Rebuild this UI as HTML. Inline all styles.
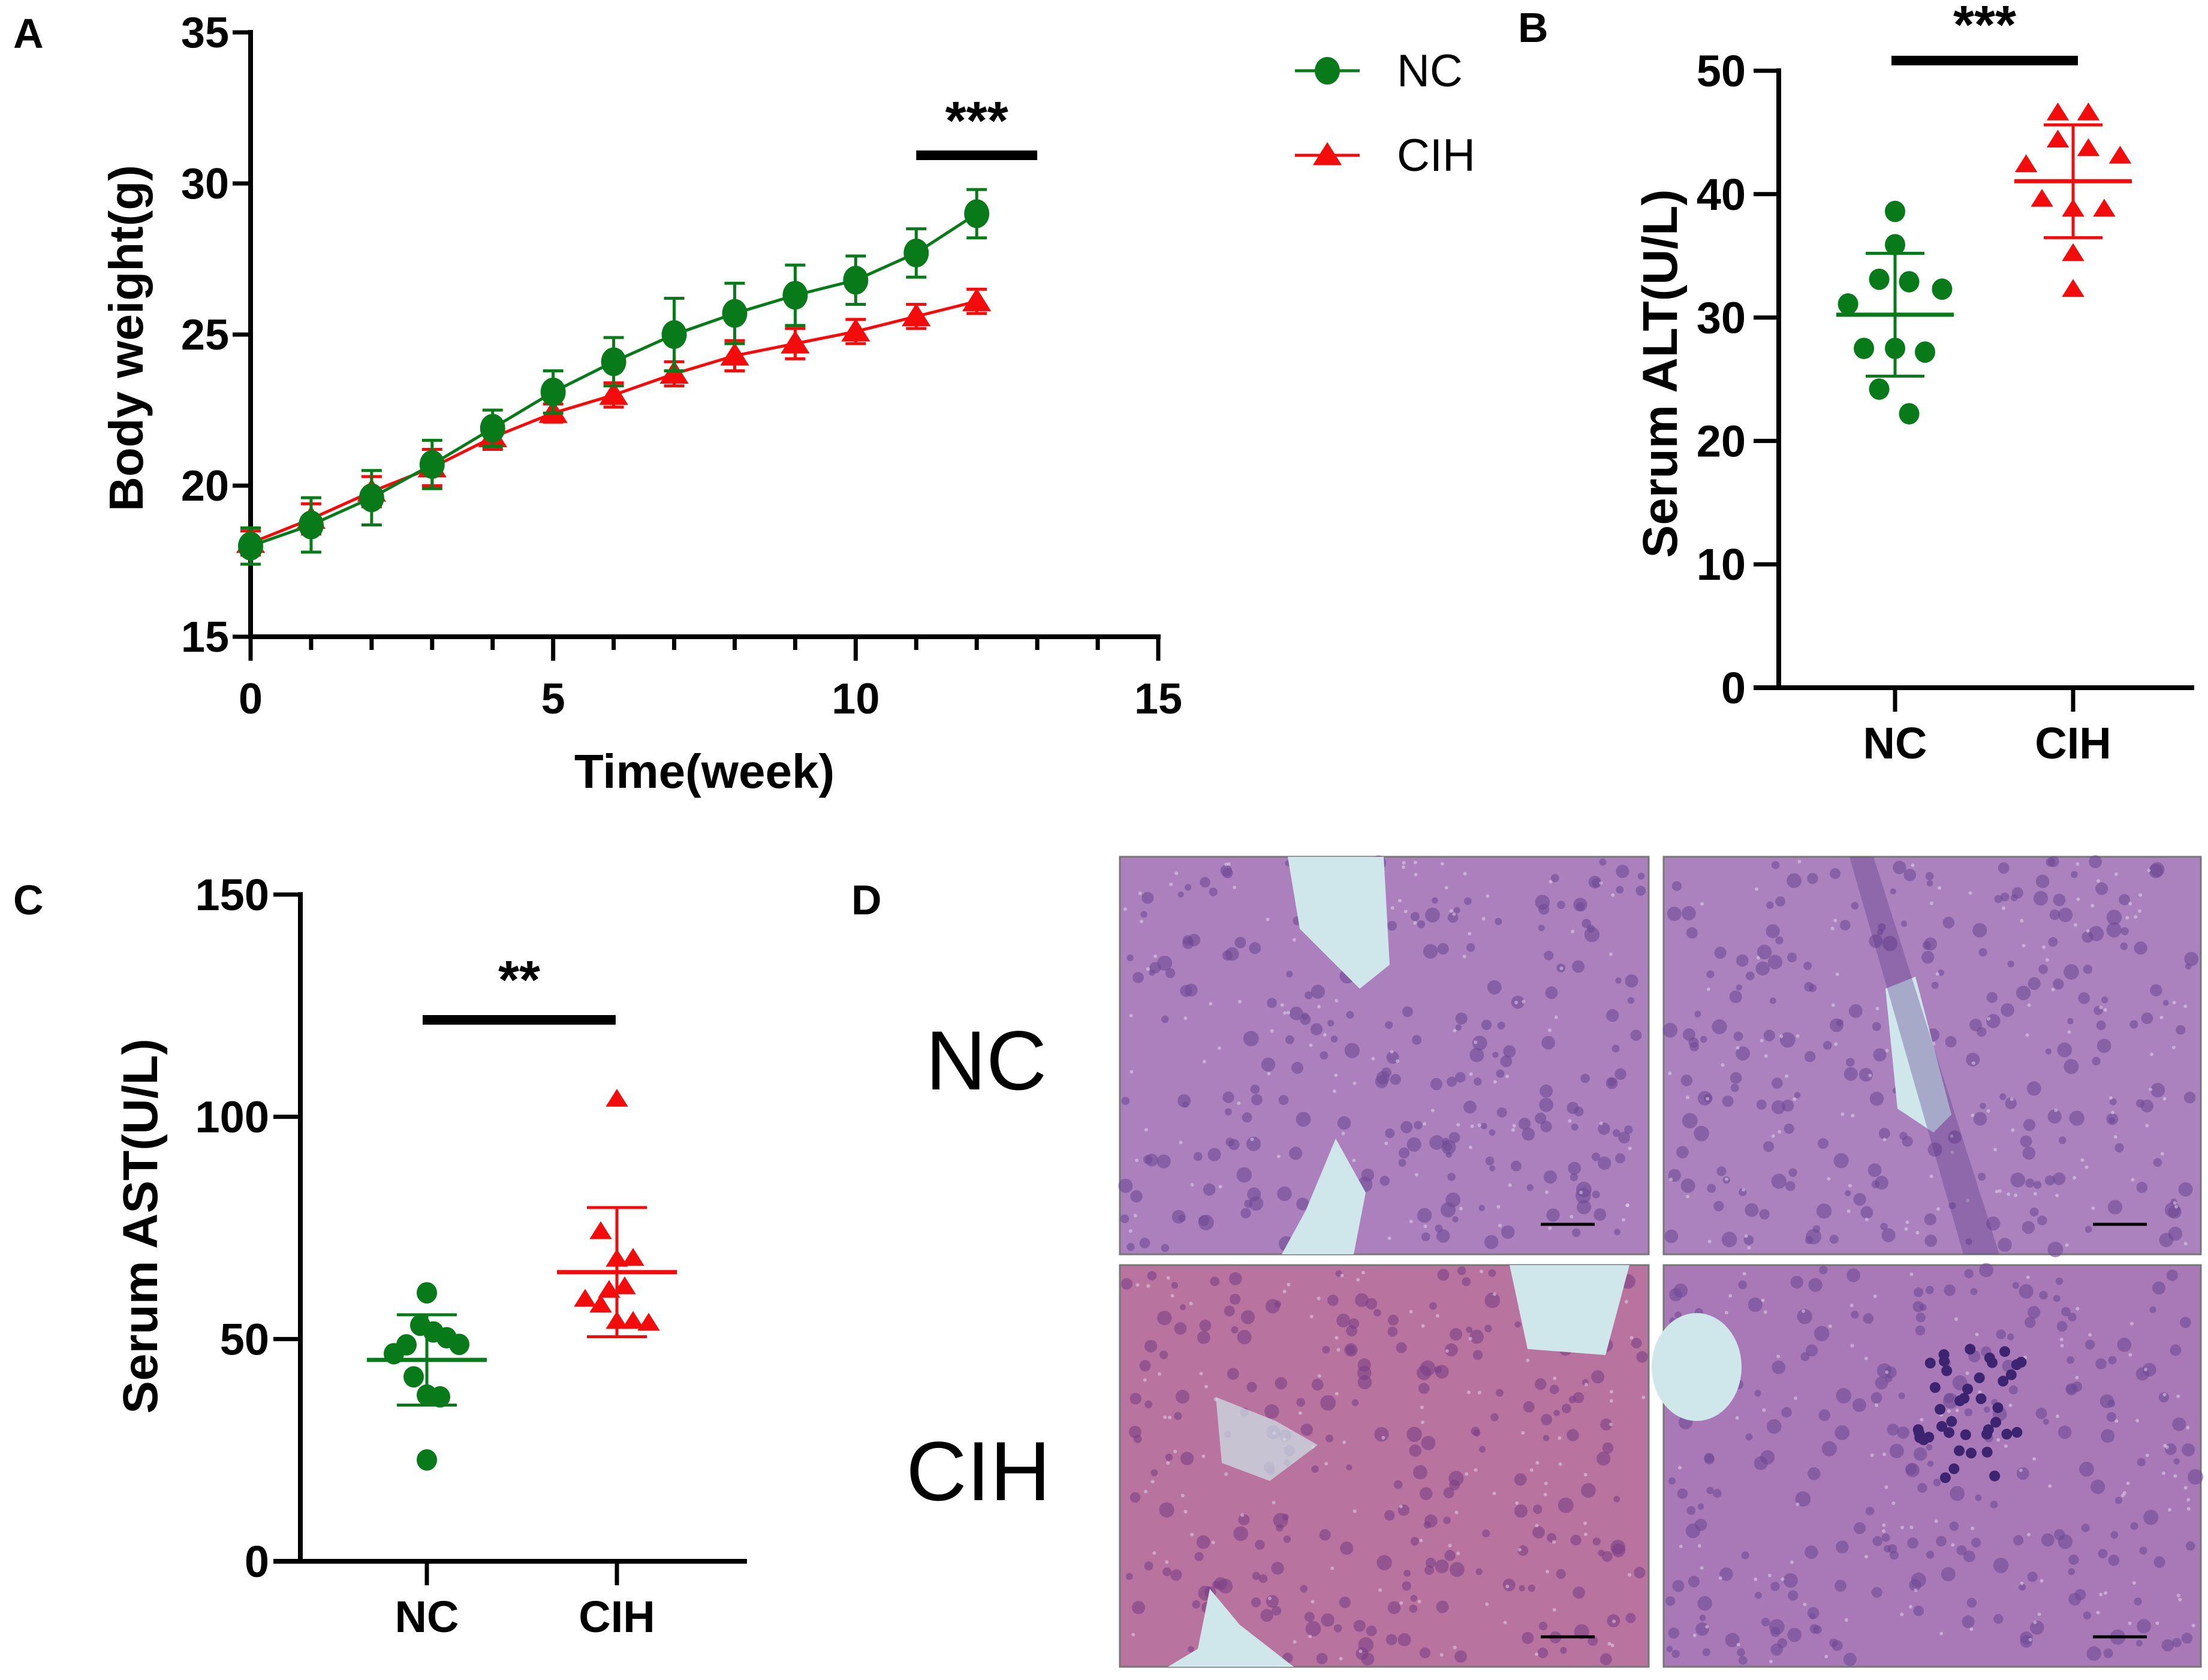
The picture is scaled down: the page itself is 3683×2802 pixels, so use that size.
<!DOCTYPE html>
<html><head><meta charset="utf-8"><style>
html,body{margin:0;padding:0;background:#fff;}
svg{display:block;font-family:"Liberation Sans",Arial,sans-serif;}
</style></head><body>
<svg id="fig" width="3683" height="2802" viewBox="0 0 3683 2802" xmlns="http://www.w3.org/2000/svg">
<g id="gA"></g>
<g id="gB"></g>
<g id="gC"></g>
<g id="gD"></g>
</svg>
<script>
// ---- Panel A data ----
const weeks = [0,1,2,3,4,5,6,7,8,9,10,11,12];
const ncWeight = [18.0,18.7,19.6,20.7,21.9,23.1,24.1,25.0,25.7,26.3,26.8,27.7,29.0];
const ncWeightErr = [0.6,0.9,0.9,0.8,0.6,0.7,0.8,1.2,1.0,1.0,0.8,0.8,0.8];
const cihWeight = [18.1,18.9,19.8,20.6,21.6,22.4,23.0,23.7,24.3,24.7,25.1,25.6,26.1];
const cihWeightErr = [0.4,0.5,0.5,0.6,0.4,0.3,0.4,0.4,0.5,0.5,0.4,0.4,0.4];
const aXTicks = [0,5,10,15];
const aYTicks = [15,20,25,30,35];
// ---- Panel B data ----
const groups = ["NC","CIH"];
const altNC = [38.6,35.9,33.1,32.9,32.3,31.1,27.5,27.5,27.2,24.2,22.2];
const altNCJitter = [0,0,-0.27,0.24,0.8,-0.8,-0.53,0,0.51,-0.27,0.24];
const altCIH = [46.6,46.6,44.4,43.7,43.1,42.4,39.6,38.8,38.8,35.2,32.3];
const altCIHJitter = [-0.26,0.26,-0.26,0.26,0.8,-0.8,-0.53,0,0.53,0,0];
const bYTicks = [0,10,20,30,40,50];
// ---- Panel C data ----
const astNC = [60.4,53.1,51.6,50.3,48.8,48.7,46.7,41.5,37.4,37.0,22.8];
const astNCJitter = [0,-0.11,0.11,0.33,0.54,-0.34,-0.55,-0.22,0,0.22,0];
const astCIH = [104,74.2,68,68.2,61,61.8,59,57.7,54,54,53.6];
const astCIHJitter = [0,-0.27,0,0.27,-0.13,0.13,-0.53,-0.27,0,0.27,0.53];
const cYTicks = [0,50,100,150];

const NS="http://www.w3.org/2000/svg";
const GREEN="#087a1a", RED="#f20c0c";
function el(tag, attrs, parent){const e=document.createElementNS(NS,tag);for(const k in attrs)e.setAttribute(k,attrs[k]);parent.appendChild(e);return e;}
function txt(s, attrs, parent){const e=el('text',attrs,parent);e.textContent=s;return e;}
function mean(a){return a.reduce((s,v)=>s+v,0)/a.length;}
function sd(a){const m=mean(a);return Math.sqrt(a.reduce((s,v)=>s+(v-m)*(v-m),0)/(a.length-1));}
function tri(cx,cy,r){return `${cx},${cy-r} ${cx-r*1.1},${cy+r*0.75} ${cx+r*1.1},${cy+r*0.75}`;}

// ===== Panel A =====
(function(){
 const g=document.getElementById('gA');
 const x0=418,x1=1932,y0=1062,y1=54;
 const X=v=>x0+(v-0)/(15-0)*(x1-x0);
 const Y=v=>y0-(v-15)/(35-15)*(y0-y1);
 let t=txt('A',{x:22,y:80,'font-size':70,'font-weight':'bold'},g);
 
 let ax=el('line',{x1:x0,y1:y1-4,x2:x0,y2:y0+4,stroke:'#000','stroke-width':8},g);
 
 ax=el('line',{x1:x0-4,y1:y0,x2:x1+4,y2:y0,stroke:'#000','stroke-width':8},g);
 
 aYTicks.forEach(v=>{
  el('line',{x1:x0-30,y1:Y(v),x2:x0,y2:Y(v),stroke:'#000','stroke-width':7},g);
  const l=txt(String(v),{x:x0-36,y:Y(v)+25,'font-size':72,'font-weight':'bold','text-anchor':'end'},g);
  
 });
 for(let v=0;v<=15;v++){
  const big=aXTicks.includes(v);
  el('line',{x1:X(v),y1:y0,x2:X(v),y2:y0+(big?40:22),stroke:'#000','stroke-width':7},g);
 }
 aXTicks.forEach(v=>{
  const l=txt(String(v),{x:X(v),y:1190,'font-size':72,'font-weight':'bold','text-anchor':'middle'},g);
  
 });
 t=txt('Time(week)',{x:1175,y:1314,'font-size':80,'font-weight':'bold','text-anchor':'middle'},g);
 
 t=txt('Body weight(g)',{x:0,y:0,'font-size':80,'font-weight':'bold','text-anchor':'middle',transform:'translate(238,564) rotate(-90)'},g);
 
 function series(vals,errs,color,name,marker){
  const sg=el('g',{},g);
  
  el('polyline',{points:weeks.map((w,i)=>X(w)+','+Y(vals[i])).join(' '),fill:'none',stroke:color,'stroke-width':5},sg);
  weeks.forEach((w,i)=>{
   const cx=X(w),hi=Y(vals[i]+errs[i]),lo=Y(vals[i]-errs[i]);
   el('line',{x1:cx,y1:hi,x2:cx,y2:lo,stroke:color,'stroke-width':5},sg);
   el('line',{x1:cx-17,y1:hi,x2:cx+17,y2:hi,stroke:color,'stroke-width':5},sg);
   el('line',{x1:cx-17,y1:lo,x2:cx+17,y2:lo,stroke:color,'stroke-width':5},sg);
   let m;
   if(marker==='c') m=el('ellipse',{cx:cx,cy:Y(vals[i]),rx:21,ry:24,fill:color},sg);
   else m=el('polygon',{points:tri(cx,Y(vals[i]),22),fill:color},sg);
   
  });
 }
 series(cihWeight,cihWeightErr,RED,'cih-weight-series','t');
 series(ncWeight,ncWeightErr,GREEN,'nc-weight-series','c');
 let b=el('line',{x1:X(11),y1:259,x2:X(13),y2:259,stroke:'#000','stroke-width':16},g);
 
 t=txt('***',{x:(X(11)+X(13))/2,y:232,'font-size':90,'font-weight':'bold','text-anchor':'middle'},g);
 
 // legend
 const lg=el('g',{},g);
 let e=el('g',{},lg);
 el('line',{x1:2160,y1:118,x2:2268,y2:118,stroke:GREEN,'stroke-width':5},e);
 el('ellipse',{cx:2214,cy:118,rx:21,ry:23,fill:GREEN},e);
 txt('NC',{x:2330,y:144,'font-size':76},e);
 e=el('g',{},lg);
 el('line',{x1:2160,y1:259,x2:2268,y2:259,stroke:RED,'stroke-width':5},e);
 el('polygon',{points:tri(2214,259,22),fill:RED},e);
 txt('CIH',{x:2330,y:285,'font-size':76},e);
})();

// ===== scatter panel helper =====
function scatterPanel(gid,cfg){
 const g=document.getElementById(gid);
 const {x0,x1,y0,y1,ymax,ticks,cats,catW,ncV,ncJ,cihV,cihJ,letter,lx,ly,title,tx,ty,bar,stars,r,pre,tickLen,lblGap}=cfg;
 const Y=v=>y0-v/ymax*(y0-y1);
 let t=txt(letter,{x:lx,y:ly,'font-size':70,'font-weight':'bold'},g);
 
 let a=el('line',{x1:x0,y1:y1-4,x2:x0,y2:y0+4,stroke:'#000','stroke-width':8},g);
 
 a=el('line',{x1:x0-tickLen,y1:y0,x2:x1,y2:y0,stroke:'#000','stroke-width':8},g);
 
 ticks.forEach(v=>{
  el('line',{x1:x0-tickLen,y1:Y(v),x2:x0,y2:Y(v),stroke:'#000','stroke-width':7},g);
  const l=txt(String(v),{x:x0-lblGap,y:Y(v)+26,'font-size':74,'font-weight':'bold','text-anchor':'end'},g);
  
 });
 groups.forEach((name,i)=>{
  el('line',{x1:cats[i],y1:y0,x2:cats[i],y2:y0+40,stroke:'#000','stroke-width':7},g);
  const l=txt(name,{x:cats[i],y:y0+118,'font-size':74,'font-weight':'bold','text-anchor':'middle'},g);
  
 });
 t=txt(title,{x:0,y:0,'font-size':82,'font-weight':'bold','text-anchor':'middle',transform:`translate(${tx},${ty}) rotate(-90)`},g);
 
 [[ncV,ncJ,GREEN,'c',cats[0],'nc'],[cihV,cihJ,RED,'t',cats[1],'cih']].forEach(([vals,jit,col,mk,cx,nm])=>{
  const sg=el('g',{},g);
  vals.forEach((v,i)=>{
   const px=cx+jit[i]*catW;let m;
   if(mk==='c') m=el('ellipse',{cx:px,cy:Y(v),rx:r,ry:r*1.05,fill:col},sg);
   else m=el('polygon',{points:tri(px,Y(v),r),fill:col},sg);
   
  });
  const m=mean(vals),s=sd(vals);
  let ml=el('line',{x1:cx-catW,y1:Y(m),x2:cx+catW,y2:Y(m),stroke:col,'stroke-width':7},sg);
  
  el('line',{x1:cx,y1:Y(m+s),x2:cx,y2:Y(m-s),stroke:col,'stroke-width':5},sg);
  el('line',{x1:cx-catW*0.5,y1:Y(m+s),x2:cx+catW*0.5,y2:Y(m+s),stroke:col,'stroke-width':5},sg);
  el('line',{x1:cx-catW*0.5,y1:Y(m-s),x2:cx+catW*0.5,y2:Y(m-s),stroke:col,'stroke-width':5},sg);
 });
 let b=el('line',{x1:bar[0],y1:bar[2],x2:bar[1],y2:bar[2],stroke:'#000','stroke-width':16},g);
 
 t=txt(stars,{x:(bar[0]+bar[1])/2,y:bar[3],'font-size':90,'font-weight':'bold','text-anchor':'middle'},g);
 
}
scatterPanel('gB',{x0:2967,x1:3660,y0:1147,y1:118,ymax:50,ticks:bYTicks,cats:[3161,3458],catW:98,
 ncV:altNC,ncJ:altNCJitter,cihV:altCIH,cihJ:altCIHJitter,letter:'B',lx:2532,ly:70,
 title:'Serum ALT(U/L)',tx:2797,ty:623,bar:[3155,3466,101,72],stars:'***',r:17,pre:'b',tickLen:42,lblGap:55});
scatterPanel('gC',{x0:501,x1:1246,y0:2604,y1:1492,ymax:150,ticks:cYTicks,cats:[712,1029],catW:100,
 ncV:astNC,ncJ:astNCJitter,cihV:astCIH,cihJ:astCIHJitter,letter:'C',lx:22,ly:1525,
 title:'Serum AST(U/L)',tx:262,ty:2045,bar:[705,1027,1701,1665],stars:'**',r:17,pre:'c',tickLen:45,lblGap:52});

// ===== Panel D (histology, decorative) =====
(function(){
 const g=document.getElementById('gD');
 let t=txt('D',{x:1420,y:1525,'font-size':70,'font-weight':'bold'},g);
 
 t=txt('NC',{x:1645,y:1817,'font-size':140,'text-anchor':'middle'},g);
 
 t=txt('CIH',{x:1632,y:2502,'font-size':140,'text-anchor':'middle'},g);
 
 const imgs=[[1868,1429,882,663,'#ab80bd','nc-micrograph-1'],[2775,1429,896,663,'#ab82bd','nc-micrograph-2'],
  [1868,2110,882,670,'#b9739f','cih-micrograph-1'],[2775,2110,896,670,'#a978b6','cih-micrograph-2']];
 let seed=7;const rnd=()=>{seed=(seed*16807)%2147483647;return seed/2147483647;};
 imgs.forEach(([x,y,w,h,c,n],k)=>{
  const ig=el('g',{},g);
  el('rect',{x:x,y:y,width:w,height:h,fill:c,stroke:'#777','stroke-width':3},ig);
  const cnt=Math.round(w*h/2600);
  for(let i=0;i<cnt;i++){
   const cx=x+8+rnd()*(w-16),cy=y+8+rnd()*(h-16),rr=5+rnd()*8;
   el('circle',{cx:cx,cy:cy,r:rr,fill:k===2?'#7c3f86':'#6f4a95',opacity:0.6},ig);
  }
  for(let i=0;i<cnt/2;i++){
   const cx=x+8+rnd()*(w-16),cy=y+8+rnd()*(h-16);
   el('circle',{cx:cx,cy:cy,r:3,fill:'#e8dcef',opacity:0.5},ig);
  }
  const V='#cfe6ea';
  if(k===0){el('path',{d:`M${x+280} ${y}L${x+440} ${y}L${x+450} ${y+180}L${x+400} ${y+220}L${x+300} ${y+120}Z`,fill:V},ig);
   el('path',{d:`M${x+310} ${y+590}L${x+360} ${y+470}L${x+410} ${y+560}L${x+390} ${y+663}L${x+270} ${y+663}Z`,fill:V},ig);}
  if(k===1){el('path',{d:`M${x+370} ${y+220}L${x+420} ${y+200}L${x+480} ${y+430}L${x+450} ${y+460}L${x+390} ${y+420}Z`,fill:V},ig);
   el('path',{d:`M${x+310} ${y}L${x+350} ${y}L${x+560} ${y+663}L${x+500} ${y+663}Z`,fill:'#5a3a8a',opacity:0.35},ig);}
  if(k===2){el('path',{d:`M${x+650} ${y}L${x+850} ${y}L${x+810} ${y+150}L${x+680} ${y+140}Z`,fill:V},ig);
   el('path',{d:`M${x+80} ${y+670}L${x+130} ${y+640}L${x+150} ${y+540}L${x+200} ${y+600}L${x+290} ${y+670}Z`,fill:V},ig);
   el('path',{d:`M${x+160} ${y+220}L${x+260} ${y+260}L${x+330} ${y+300}L${x+250} ${y+360}L${x+170} ${y+330}Z`,fill:V,opacity:0.7},ig);}
  if(k===3){el('ellipse',{cx:x+55,cy:y+170,rx:75,ry:90,fill:V},ig);
   for(let i=0;i<40;i++)el('circle',{cx:x+420+rnd()*180,cy:y+140+rnd()*220,r:9,fill:'#3d2470'},ig);}
  el('line',{x1:x+w-180,y1:y+h-50,x2:x+w-90,y2:y+h-50,stroke:'#000','stroke-width':5},ig);
 });
})();
</script>
</body></html>
